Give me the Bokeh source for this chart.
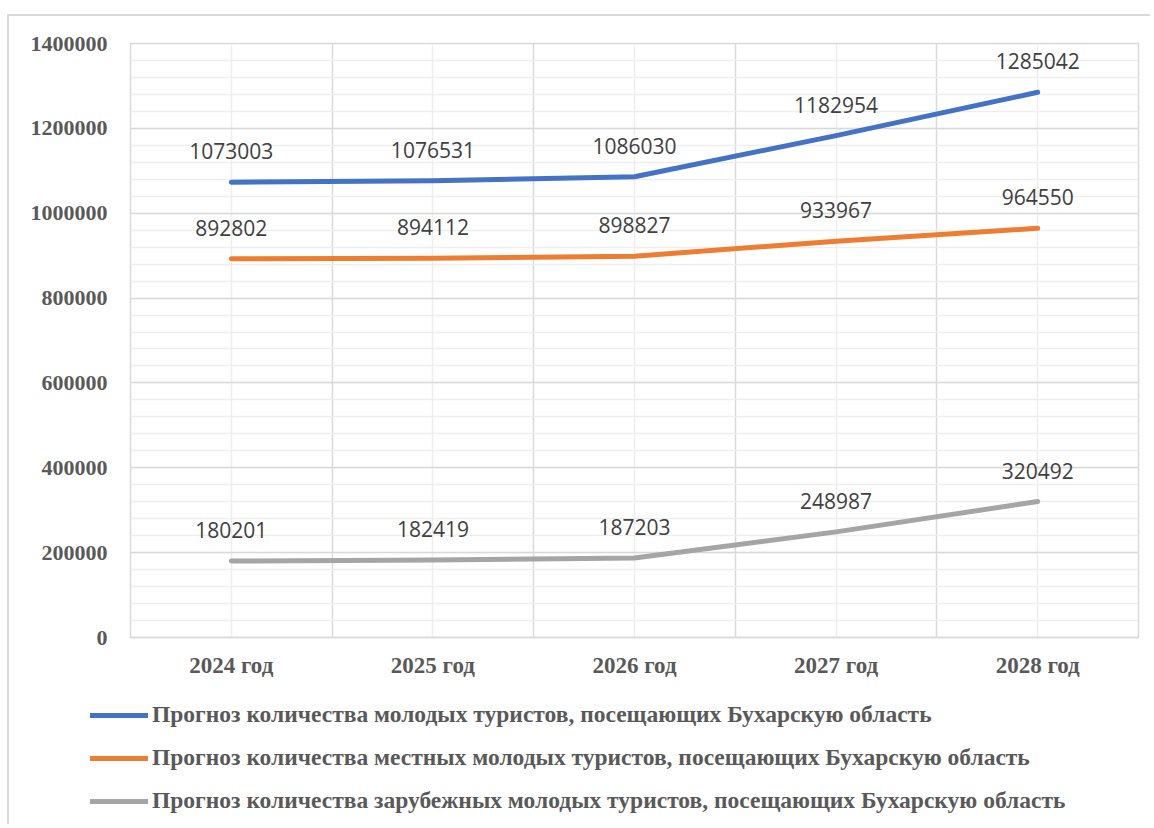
from bokeh.plotting import figure
from bokeh.layouts import column
from bokeh.models import FixedTicker, Legend, LegendItem, ColumnDataSource
from bokeh.core.properties import value
from bokeh.embed import file_html
from bokeh.resources import INLINE

categories = ["2024 год", "2025 год", "2026 год", "2027 год", "2028 год"]
total = [1073003, 1076531, 1086030, 1182954, 1285042]
local = [892802, 894112, 898827, 933967, 964550]
foreign = [180201, 182419, 187203, 248987, 320492]
series_names = [
    "Прогноз количества молодых туристов, посещающих Бухарскую область",
    "Прогноз количества местных молодых туристов, посещающих Бухарскую область",
    "Прогноз количества зарубежных молодых туристов, посещающих Бухарскую область",
]
colors = ["#4472C4", "#ED7D31", "#A5A5A5"]
y_major = list(range(0, 1400001, 200000))
y_minor = list(range(0, 1400001, 40000))

xs = [i + 0.5 for i in range(len(categories))]
bounds = list(range(len(categories) + 1))

p = figure(width=1141, height=684, x_range=(0, 5), y_range=(0, 1400000),
           output_backend="svg", toolbar_location=None,
           min_border_left=121, min_border_right=12, min_border_top=27, min_border_bottom=63)
p.frame_align = False
p.background_fill_color = "white"
p.border_fill_color = "white"
p.outline_line_color = "#d9d9d9"
p.outline_line_width = 1.5

# grids
p.xgrid.ticker = FixedTicker(ticks=bounds, minor_ticks=xs)
p.xgrid.grid_line_color = "#d9d9d9"
p.xgrid.grid_line_width = 1.5
p.xgrid.minor_grid_line_color = "#eeeeee"
p.xgrid.minor_grid_line_width = 1.5
p.ygrid.ticker = FixedTicker(ticks=y_major, minor_ticks=y_minor)
p.ygrid.grid_line_color = "#d9d9d9"
p.ygrid.grid_line_width = 1.5
p.ygrid.minor_grid_line_color = "#eeeeee"
p.ygrid.minor_grid_line_width = 1.5

# axes
p.xaxis.ticker = FixedTicker(ticks=xs)
p.xaxis.major_label_overrides = {x: c for x, c in zip(xs, categories)}
p.xaxis.major_tick_line_color = None
p.xaxis.minor_tick_line_color = None
p.xaxis.axis_line_color = "#d9d9d9"
p.xaxis.axis_line_width = 1.5
p.xaxis.major_label_standoff = 9
p.xaxis.major_label_text_font = "Liberation Serif"
p.xaxis.major_label_text_font_style = "bold"
p.xaxis.major_label_text_font_size = "23px"
p.xaxis.major_label_text_color = "#595959"

p.yaxis.ticker = FixedTicker(ticks=y_major)
p.yaxis.major_label_overrides = {v: str(v) for v in y_major}
p.yaxis.major_tick_line_color = None
p.yaxis.minor_tick_line_color = None
p.yaxis.axis_line_color = None
p.yaxis.major_label_standoff = 17
p.yaxis.major_label_text_font = "Liberation Serif"
p.yaxis.major_label_text_font_style = "bold"
p.yaxis.major_label_text_font_size = "22px"
p.yaxis.major_label_text_color = "#595959"

# legend figure (the series are drawn far outside its visible range; only the legend shows)
pl = figure(width=1141, height=124, x_range=(0, 1), y_range=(0, 1),
            output_backend="svg", toolbar_location=None, x_axis_type=None, y_axis_type=None,
            min_border_left=0, min_border_right=0, min_border_top=0, min_border_bottom=0)
pl.frame_align = False
pl.outline_line_color = None
pl.xgrid.visible = False
pl.ygrid.visible = False
pl.background_fill_color = "white"
pl.border_fill_color = "white"

items = []
for name, vals, col in zip(series_names, [total, local, foreign], colors):
    src = ColumnDataSource(dict(x=xs, y=vals, t=[str(v) for v in vals]))
    p.line("x", "y", source=src, line_color=col, line_width=5, line_cap="round", line_join="round")
    p.text("x", "y", text="t", source=src, text_align="center", text_baseline="middle",
           y_offset=-31, text_font=value("Open Sans"), text_font_size="21px", text_color="#404040")
    rl = pl.line("x", "y", source=src, line_color=col, line_width=5, line_cap="round")
    items.append(LegendItem(label=name, renderers=[rl]))

legend = Legend(items=items, location=(81, 10), glyph_width=58, glyph_height=20,
                label_height=20, spacing=16, padding=0, margin=0, label_standoff=4,
                border_line_color=None, background_fill_alpha=0,
                label_text_font="Liberation Serif", label_text_font_style="bold",
                label_text_font_size="23.5px", label_text_color="#595959")
pl.add_layout(legend)

layout = column(p, pl, spacing=0)
layout.margin = (14, 0, 0, 7)
layout.styles = {"border-top": "2px solid #d9d9d9", "border-left": "2px solid #d9d9d9"}
open("out.html", "w").write(file_html(layout, INLINE))
